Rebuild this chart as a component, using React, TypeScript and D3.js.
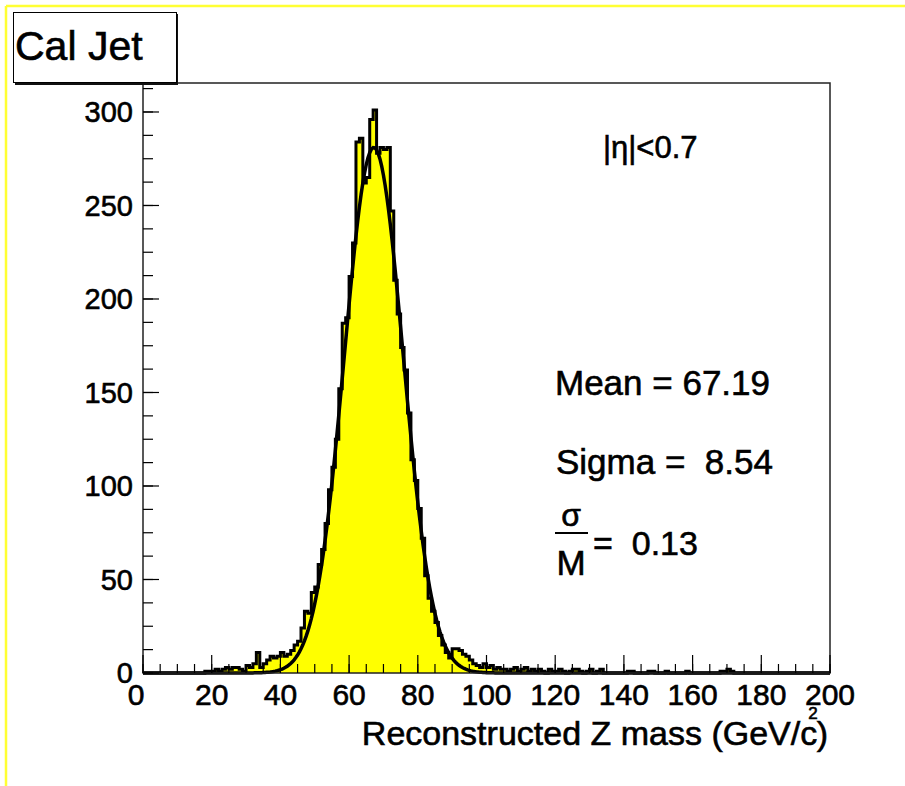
import * as d3 from 'd3'

// Reconstructed Z mass, 1 GeV bins from 0 to 200
const binEdges = d3.range(0, 201, 1)
const counts: number[] = [
  0, 0, 0, 0, 0, 0, 0, 0, 0, 0,
  0, 0, 0, 0, 0, 0, 0, 0, 1, 1,
  1, 2, 1, 2, 3, 2, 3, 3, 2, 1,
  4, 3, 5, 11, 3, 5, 7, 9, 8, 9,
  11, 9, 10, 12, 15, 17, 24, 33, 32, 43,
  46, 58, 66, 80, 98, 110, 125, 152, 187, 190,
  212, 230, 284, 286, 262, 265, 296, 301, 278, 281,
  280, 281, 247, 210, 192, 174, 162, 139, 114, 103,
  88, 72, 52, 40, 33, 27, 20, 15, 11, 8,
  13, 13, 12, 10, 9, 7, 5, 4, 3, 5,
  3, 4, 2, 3, 2, 2, 1, 2, 3, 1,
  2, 3, 1, 2, 1, 2, 1, 0, 2, 1,
  1, 2, 1, 0, 1, 2, 2, 1, 0, 1,
  2, 0, 1, 2, 0, 0, 0, 0, 0, 0,
  0, 1, 1, 0, 0, 0, 0, 1, 1, 0,
  0, 0, 1, 0, 0, 0, 0, 0, 1, 0,
  0, 0, 0, 0, 0, 0, 0, 0, 1, 1,
  2, 1, 0, 0, 0, 0, 0, 0, 0, 0,
  0, 0, 0, 0, 0, 0, 0, 0, 0, 0,
  0, 0, 0, 0, 0, 0, 0, 0, 0, 0,
]

// gaussian fit parameters
const fitConstant = 281
const fitMean = 67.19
const fitSigma = 8.54

const xMajor = [0, 20, 40, 60, 80, 100, 120, 140, 160, 180, 200]
const yMajor = [0, 50, 100, 150, 200, 250, 300]

const title = 'Cal Jet'
const etaLabel = '|η|<0.7'
const meanLabel = 'Mean = 67.19'
const sigmaLabel = 'Sigma =  8.54'
const ratioLabel = '=  0.13'

const W = 905
const H = 786
const margin = { top: 83, right: 75, bottom: 113, left: 143 }
const font = '"Liberation Sans", Arial, Helvetica, sans-serif'

// slightly heavier glyphs, like the X11 rendering of the original
const txt = { fill: '#000', stroke: '#000', strokeWidth: 0.6, style: { whiteSpace: 'pre' as const } }

export default function App() {
  const x = d3.scaleLinear().domain([0, 200]).range([margin.left, W - margin.right])
  const y = d3.scaleLinear().domain([0, 315.5]).range([H - margin.bottom, margin.top])

  const pts = counts.map((c, i) => ({ v: binEdges[i], c }))
  pts.push({ v: binEdges[binEdges.length - 1], c: counts[counts.length - 1] })

  const area = d3.area<{ v: number; c: number }>()
    .x(d => x(d.v))
    .y0(y(0))
    .y1(d => y(d.c))
    .curve(d3.curveStepAfter)
  const outline = d3.line<{ v: number; c: number }>()
    .x(d => x(d.v))
    .y(d => y(d.c))
    .curve(d3.curveStepAfter)

  const fitPts = d3.range(0, 200.01, 0.5).map(v => ({
    v,
    c: fitConstant * Math.exp(-((v - fitMean) ** 2) / (2 * fitSigma * fitSigma)),
  }))
  const fitLine = d3.line<{ v: number; c: number }>()
    .x(d => x(d.v))
    .y(d => y(d.c))

  const xMinor = d3.range(0, 200.01, 5)
  const yMinor = d3.range(0, 315, 12.5)
  const [x0, x1] = x.range()
  const [yb, yt] = y.range()

  return (
    <svg
      width={W}
      height={H}
      style={{ position: 'absolute', left: 0, top: 0, background: '#fff' }}
      fontFamily={font}
    >
      {/* canvas border */}
      <line x1={6} y1={6} x2={W} y2={6} stroke="#ffff33" strokeWidth={2.5} />
      <line x1={6} y1={6} x2={6} y2={H} stroke="#ffff33" strokeWidth={2.5} />

      {/* histogram */}
      <path d={area(pts) || ''} fill="#ffff00" />
      <path d={outline(pts) || ''} fill="none" stroke="#000" strokeWidth={3} />
      <path d={fitLine(fitPts) || ''} fill="none" stroke="#000" strokeWidth={3.5} />

      {/* frame */}
      <rect x={x0} y={yt} width={x1 - x0} height={yb - yt} fill="none" stroke="#222" strokeWidth={1.5} />

      {/* x ticks */}
      {xMinor.map(v => (
        <line key={'xm' + v} x1={x(v)} x2={x(v)} y1={yb} y2={yb - 9} stroke="#000" strokeWidth={1.2} />
      ))}
      {xMajor.map(v => (
        <line key={'xM' + v} x1={x(v)} x2={x(v)} y1={yb} y2={yb - 18} stroke="#000" strokeWidth={1.2} />
      ))}
      {xMajor.map(v => (
        <text key={'xl' + v} x={x(v) - (v === 0 ? 7 : 0)} y={yb + 32} fontSize={30} textAnchor="middle" {...txt}>
          {v}
        </text>
      ))}

      {/* y ticks */}
      {yMinor.map(v => (
        <line key={'ym' + v} x1={x0} x2={x0 + 10} y1={y(v)} y2={y(v)} stroke="#000" strokeWidth={1.2} />
      ))}
      {yMajor.map(v => (
        <line key={'yM' + v} x1={x0} x2={x0 + 16} y1={y(v)} y2={y(v)} stroke="#000" strokeWidth={1.2} />
      ))}
      {yMajor.map(v => (
        <text key={'yl' + v} x={133} y={y(v)} dy="0.36em" fontSize={29} textAnchor="end" {...txt}>
          {v}
        </text>
      ))}

      {/* axis title */}
      <text x={828} y={745} fontSize={34} textAnchor="end" {...txt}>
        Reconstructed Z mass (GeV/c
        <tspan dx={-9} dy={-26} fontSize={17}>2</tspan>
        <tspan dx={-1} dy={26}>)</tspan>
      </text>

      {/* title box */}
      <rect x={15} y={14} width={163} height={71} fill="#111" />
      <rect x={13.5} y={12.5} width={163} height={70} fill="#fff" stroke="#000" strokeWidth={1} />
      <text x={15} y={60} fontSize={41} {...txt}>{title}</text>

      {/* annotations */}
      <text x={603} y={158} fontSize={31} {...txt}>{etaLabel}</text>
      <text x={555} y={395} fontSize={35} {...txt}>{meanLabel}</text>
      <text x={556} y={474} fontSize={35} {...txt}>{sigmaLabel}</text>
      <text x={571} y={526} fontSize={32} textAnchor="middle" {...txt}>σ</text>
      <line x1={555} x2={588} y1={533} y2={533} stroke="#000" strokeWidth={2} />
      <text x={571} y={575} fontSize={35} textAnchor="middle" {...txt}>M</text>
      <text x={593} y={555} fontSize={34} {...txt}>{ratioLabel}</text>
    </svg>
  )
}
